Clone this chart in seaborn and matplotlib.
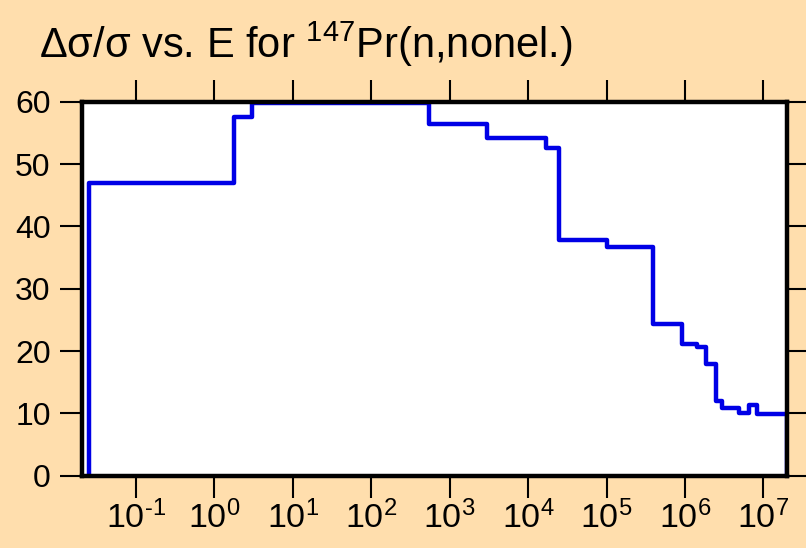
import matplotlib
matplotlib.use("Agg")
import matplotlib.pyplot as plt
import seaborn as sns
import pandas as pd

# Uncertainty steps for 147Pr(n,nonel.): group boundaries (eV) and relative uncertainty (%)
group_edges = [0.0253, 1.78, 3.0, 551, 3020, 16900, 25000, 1.0e5, 3.95e5, 9.2e5,
               1.42e6, 1.86e6, 2.5e6, 2.98e6, 4.86e6, 6.5e6, 8.2e6, 2.0e7]
rel_unc = [47.0, 57.5, 59.8, 56.5, 54.2, 52.5, 37.8, 36.7, 24.4, 21.2,
           20.7, 17.9, 12.0, 10.9, 10.1, 11.4, 9.9]

x_exponents = [-1, 0, 1, 2, 3, 4, 5, 6, 7]
y_ticks = [0, 10, 20, 30, 40, 50, 60]
x_range = (0.0205, 2.0e7)
y_range = (0, 60)

bg = "#FFDEAD"

sns.set_theme(style="ticks")
plt.rcParams["font.family"] = ["Liberation Sans", "DejaVu Sans"]
plt.rcParams["mathtext.fontset"] = "custom"
plt.rcParams["mathtext.rm"] = "Liberation Sans"
plt.rcParams["mathtext.it"] = "Liberation Sans"
plt.rcParams["mathtext.bf"] = "Liberation Sans"
plt.rcParams["axes.unicode_minus"] = False

# Closed step outline: rise from zero at the first edge, fall back to zero at the last
xs = [group_edges[0]] + group_edges[:-1] + [group_edges[-1], group_edges[-1]]
ys = [0.0] + rel_unc + [rel_unc[-1], 0.0]
df = pd.DataFrame({"E": xs, "unc": ys})

fig = plt.figure(figsize=(8.06, 5.48), dpi=100, facecolor=bg)
ax = fig.add_axes([82 / 806, 1 - 475.7 / 548, (787 - 82) / 806, (475.7 - 101.7) / 548])
ax.set_facecolor("white")

sns.lineplot(data=df, x="E", y="unc", ax=ax, estimator=None, sort=False,
             drawstyle="steps-post", color="#0000E6", linewidth=3.2)

ax.set_xscale("log")
ax.set_xlim(*x_range)
ax.set_ylim(*y_range)
ax.set_xticks([10.0 ** e for e in x_exponents])
ax.set_xticklabels([f"$10^{{\\text{{{e}}}}}$" for e in x_exponents])
ax.xaxis.set_minor_locator(matplotlib.ticker.NullLocator())
ax.set_yticks(y_ticks)
ax.set_yticklabels([str(v) for v in y_ticks])
ax.set_xlabel("")
ax.set_ylabel("")

for side in ["left", "right", "top", "bottom"]:
    ax.spines[side].set_visible(True)
    ax.spines[side].set_linewidth(3.2)
    ax.spines[side].set_color("black")

ax.tick_params(axis="both", which="major", direction="out", length=15.5, width=1.5,
               color="black", labelcolor="black",
               top=True, right=True, labeltop=False, labelright=False)
ax.tick_params(axis="y", pad=7, labelsize=23)
ax.tick_params(axis="x", pad=2.5, labelsize=24.5)

fig.text(39 / 806, 1 - 58.3 / 548, "Δσ/σ vs. E for $^{147}$Pr(n,nonel.)",
         ha="left", va="baseline", fontsize=30, color="black")

fig.savefig("out.png", dpi=100, facecolor=bg)
